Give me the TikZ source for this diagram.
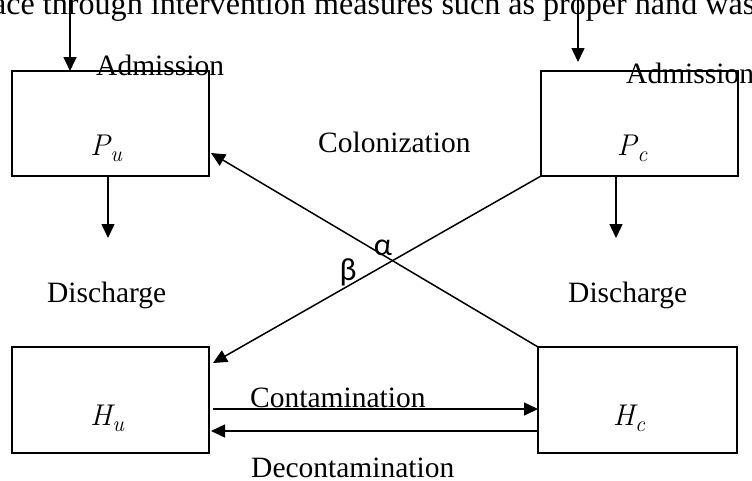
\documentclass[tikz,border=0pt]{standalone}
\usepackage{fontspec}
\setmainfont{Liberation Serif}
\newfontfamily\greekfont{Carlito}
\newfontfamily\lmfont{Latin Modern Roman}
\newcommand\mlab[2]{{\lmfont\itshape\fontsize{30}{33}\selectfont #1\kern0.5pt\raisebox{-6pt}{\fontsize{22}{24}\selectfont #2}}}
\usetikzlibrary{arrows.meta}
\begin{document}
\begin{tikzpicture}[x=1pt,y=-1pt,
  box/.style={draw, line width=1.5pt, inner sep=0pt, outer sep=0pt},
  arr/.style={line width=1.5pt, -{Triangle[length=14pt,width=13pt]}},
  lbl/.style={font=\fontsize{29.5}{34}\selectfont, inner sep=0pt, anchor=base west},
  toptext/.style={font=\fontsize{32.1}{36}\selectfont, inner sep=0pt, anchor=base west},
  mathlbl/.style={inner sep=0pt, anchor=base},
  greek/.style={font=\greekfont\fontsize{32}{36}\selectfont, inner sep=0pt}]
\useasboundingbox (0,0) rectangle (752,480);
\fill[white] (0,0) rectangle (752,480);

% top clipped text
\node[toptext] (top) at (-8,14) {ace through intervention measures such as proper hand was};

% boxes
\node[box, minimum width=197pt, minimum height=105pt] (Pu) at (110.5,123.5) {};
\node[box, minimum width=197pt, minimum height=105pt] (Pc) at (639.5,123.5) {};
\node[box, minimum width=197pt, minimum height=106pt] (Hu) at (110.5,400) {};
\node[box, minimum width=199pt, minimum height=106pt] (Hc) at (637.5,400) {};

% box labels
\node[mathlbl] (PuL) at (106,155) {\mlab{P}{u}};
\node[mathlbl] (PcL) at (632,155) {\mlab{P}{c}};
\node[mathlbl] (HuL) at (107,425) {\mlab{H}{u}};
\node[mathlbl] (HcL) at (629,425) {\mlab{H}{c}};

% text labels
\node[lbl] (adm1) at (96,75) {Admission};
\node[lbl] (adm2) at (626,83) {Admission};
\node[lbl] (dis1) at (47,302) {Discharge};
\node[lbl] (dis2) at (568,302) {Discharge};
\node[lbl] (col) at (318,152) {Colonization};
\node[lbl] (con) at (250,407) {Contamination};
\node[lbl] (dec) at (251,477) {Decontamination};
\node[greek] (alpha) at (383,248) {α};
\node[greek] (beta) at (348,272) {β};

% coordinates
\coordinate (a1) at (70,-1);
\coordinate (a2) at (578,-1);
\coordinate (a2e) at (578,62);
\coordinate (d1) at (108,238);
\coordinate (d2) at (616,238);
\coordinate (b1) at (213,363);
\coordinate (t1) at (211,153);
\coordinate (c1) at (213,409);
\coordinate (c2) at (211,431);

% connectors
\draw[arr] (a1) -- (a1 |- Pu.north);
\draw[arr] (a2) -- (a2e);
\draw[arr] (d1 |- Pu.south) -- (d1);
\draw[arr] (d2 |- Pc.south) -- (d2);
\draw[arr] (Pc.south west) -- (b1);
\draw[arr] (Hc.north west) -- (t1);
\draw[arr] (c1) -- (c1 -| Hc.west);
\draw[arr] (c2 -| Hc.west) -- (c2);
\end{tikzpicture}
\end{document}
